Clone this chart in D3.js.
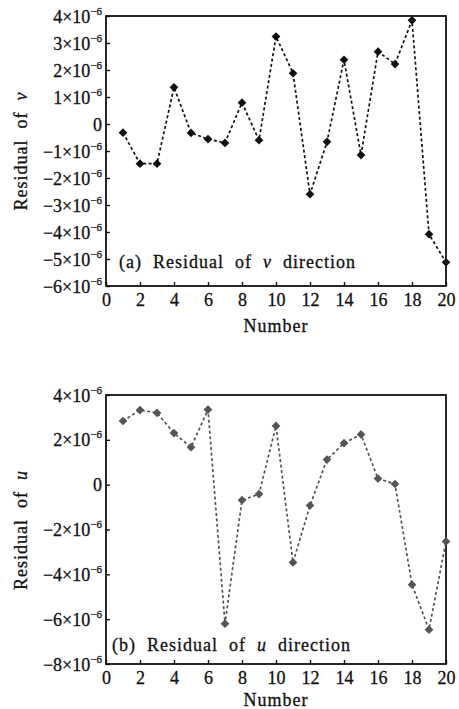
<!DOCTYPE html>
<html>
<head>
<meta charset="utf-8">
<script src="https://cdn.jsdelivr.net/npm/d3@7"></script>
<style>
  body { margin: 0; background: white; }
  svg text { font-family: "Liberation Serif", "Times New Roman", serif; fill: #111; stroke: #111; stroke-width: 0.3px; }
</style>
</head>
<body>
<div id="chart"></div>
<script>
const numbers = d3.range(1, 21);
const residualV = [-0.32, -1.47, -1.47, 1.36, -0.33, -0.56, -0.7, 0.79, -0.6, 3.24,
                   1.88, -2.6, -0.66, 2.38, -1.15, 2.68, 2.22, 3.84, -4.08, -5.12];
const residualU = [2.84, 3.33, 3.2, 2.3, 1.67, 3.35, -6.2, -0.69, -0.42, 2.62,
                   -3.47, -0.93, 1.12, 1.85, 2.24, 0.27, 0.03, -4.46, -6.47, -2.53];
const xTicks = d3.range(0, 21, 2);
const vTicks = d3.range(-6, 5, 1);
const uTicks = d3.range(-8, 5, 2);

const W = 459, H = 709;
const svg = d3.select("#chart").append("svg")
  .attr("width", W)
  .attr("height", H);

// builds "k×10⁻⁶" labels with a real superscript
function sciLabel(sel) {
  sel.each(function(d) {
    const t = d3.select(this).text("");
    if (d === 0) { t.text("0"); return; }
    t.append("tspan").text((d < 0 ? "\u2212" + (-d) : d) + "\u00d710");
    t.append("tspan").attr("dy", -8).style("font-size", "11px").text("\u22126");
  });
}

function drawPanel(o) {
  const x = d3.scaleLinear().domain([0, 20]).range([106, 446]);
  const y = d3.scaleLinear().domain(o.domain).range([o.bottom, o.top]);
  const g = svg.append("g");

  // x axis, ticks point inward
  const gx = g.append("g")
    .attr("transform", `translate(0,${o.bottom})`)
    .call(d3.axisBottom(x).tickValues(xTicks).tickSize(-4).tickPadding(7).tickFormat(d3.format("d")));
  gx.select(".domain").remove();
  gx.selectAll("line").attr("stroke", "#111").attr("stroke-width", 1.4);
  gx.selectAll("text").style("font-size", "18px").attr("fill", "#111");

  // y axis
  const gy = g.append("g")
    .attr("transform", "translate(106,0)")
    .call(d3.axisLeft(y).tickValues(o.ticks).tickSize(-4).tickPadding(4));
  gy.select(".domain").remove();
  gy.selectAll("line").attr("stroke", "#111").attr("stroke-width", 1.4);
  gy.selectAll("text").style("font-size", "18px").attr("fill", "#111").attr("dy", "0.34em").call(sciLabel);

  // frame
  g.append("rect")
    .attr("x", 106).attr("y", o.top)
    .attr("width", 340).attr("height", o.bottom - o.top)
    .attr("fill", "none").attr("stroke", "#111").attr("stroke-width", 1.8);

  const line = d3.line().x((d, i) => x(numbers[i])).y(d => y(d));
  g.append("path")
    .datum(o.values)
    .attr("d", line)
    .attr("fill", "none")
    .attr("stroke", o.color)
    .attr("stroke-width", 1.7)
    .attr("stroke-dasharray", "3,2.5");

  g.selectAll("path.pt")
    .data(o.values)
    .enter()
    .append("path")
    .attr("class", "pt")
    .attr("transform", (d, i) => `translate(${x(numbers[i])},${y(d)}) rotate(45)`)
    .attr("d", d3.symbol().type(d3.symbolSquare).size(38))
    .attr("fill", o.color);

  // annotation inside the frame
  const note = g.append("text")
    .attr("x", o.noteX).attr("y", o.noteY)
    .style("font-size", "18px")
    .style("letter-spacing", "1px")
    .attr("xml:space", "preserve");
  note.append("tspan").text("(" + o.tag + ")  Residual  of  ");
  note.append("tspan").style("font-style", "italic").text(o.sym);
  note.append("tspan").text("  direction");

  g.append("text")
    .attr("x", 276).attr("y", o.bottom + o.numberGap)
    .attr("text-anchor", "middle")
    .style("font-size", "18px")
    .style("letter-spacing", "1px")
    .text("Number");

  const yl = g.append("text")
    .attr("transform", `translate(27,${o.labelY}) rotate(-90)`)
    .attr("text-anchor", "middle")
    .style("font-size", "18px")
    .style("letter-spacing", "1px")
    .attr("xml:space", "preserve");
  yl.append("tspan").text("Residual  of  ");
  yl.append("tspan").style("font-style", "italic").text(o.sym);
}

drawPanel({ top: 16, bottom: 286, domain: [-6, 4], ticks: vTicks, values: residualV,
            color: "#111", tag: "a", sym: "v", noteX: 119, noteY: 268, numberGap: 46, labelY: 151 });
drawPanel({ top: 395, bottom: 664, domain: [-8, 4], ticks: uTicks, values: residualU,
            color: "#555", tag: "b", sym: "u", noteX: 112, noteY: 651, numberGap: 42, labelY: 530 });
</script>
</body>
</html>
